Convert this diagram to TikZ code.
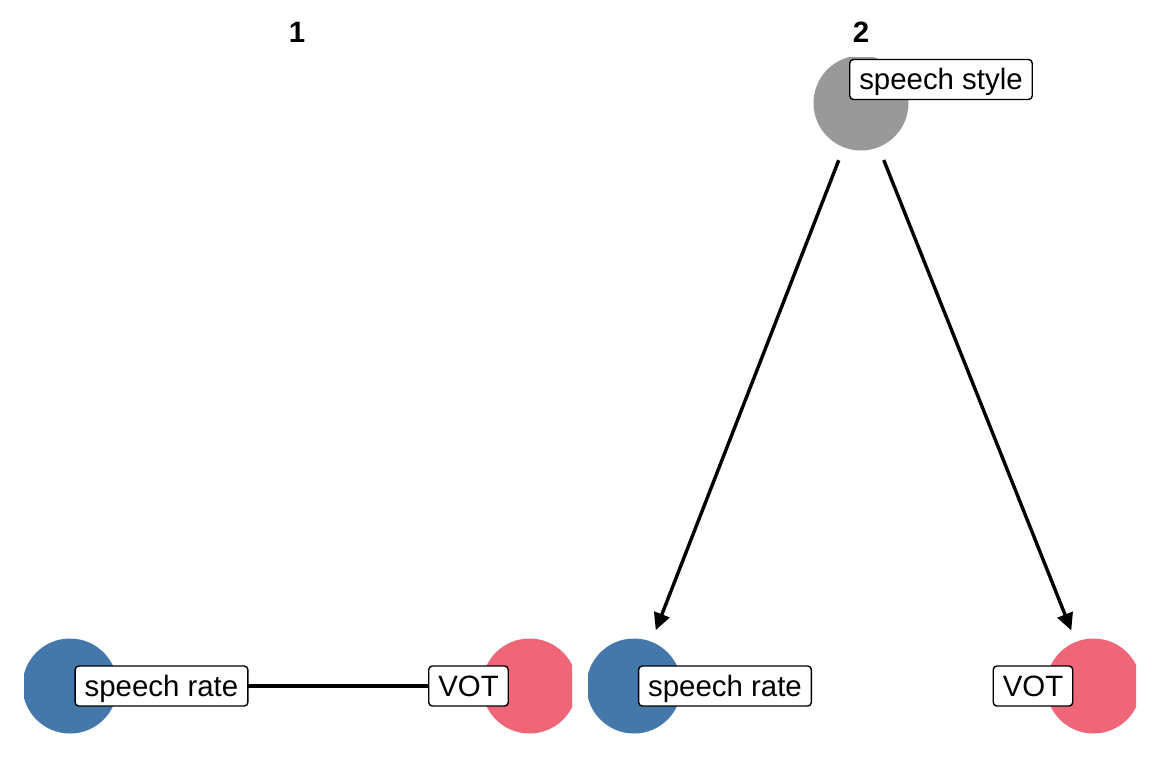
\documentclass[tikz,border=0pt]{standalone}
\usepackage{fontspec}
\setmainfont{Liberation Sans}
\usetikzlibrary{arrows.meta}
\definecolor{cblue}{HTML}{4477AA}
\definecolor{cred}{HTML}{EE6677}
\definecolor{cgray}{HTML}{999999}
\begin{document}
\begin{tikzpicture}[x=0.5pt,y=-0.5pt,
  vertex/.style={circle,minimum size=47.5pt,inner sep=0pt,draw=none},
  lab/.style={draw=black,line width=0.7pt,fill=white,rounded corners=1.8pt,inner xsep=4.75pt,inner ysep=0pt,minimum height=20pt,text height=13pt,text depth=3pt,font=\fontsize{14.7}{17}\selectfont},
  ttl/.style={font=\fontsize{14.7}{17}\selectfont\bfseries,anchor=base},
  conn/.style={line width=1.7pt,draw=black},
  arr/.style={conn,-{Triangle[length=8.5pt,width=8pt]},shorten >=6pt,shorten <=6.75pt}]
\useasboundingbox (0,0) rectangle (1152,768);
% panel titles
\node[ttl] (t1) at (297,42) {1};
\node[ttl] (t2) at (861,42) {2};
% panel 1 vertices
\begin{scope}
\clip (24,0) rectangle (572,768);
\node[vertex,fill=cblue] (b1) at (70,686) {};
\node[vertex,fill=cred] (r1) at (529.5,686) {};
\end{scope}
% panel 2 vertices
\begin{scope}
\clip (588,57) rectangle (1136,768);
\node[vertex,fill=cgray] (g2) at (861,103) {};
\node[vertex,fill=cblue] (b2) at (634,686) {};
\node[vertex,fill=cred] (r2) at (1093.5,686) {};
\end{scope}
% connectors
\draw[conn] (b1) -- (r1);
\draw[arr] (g2) -- (b2);
\draw[arr] (g2) -- (r2);
% labels
\node[lab] (l1sr) at (161.5,686) {speech rate};
\node[lab] (l1vot) at (468.5,686) {VOT};
\node[lab] (l2sr) at (725,686) {speech rate};
\node[lab] (l2vot) at (1033,686) {VOT};
\node[lab] (l2ss) at (941,79.5) {speech style};
\end{tikzpicture}
\end{document}
